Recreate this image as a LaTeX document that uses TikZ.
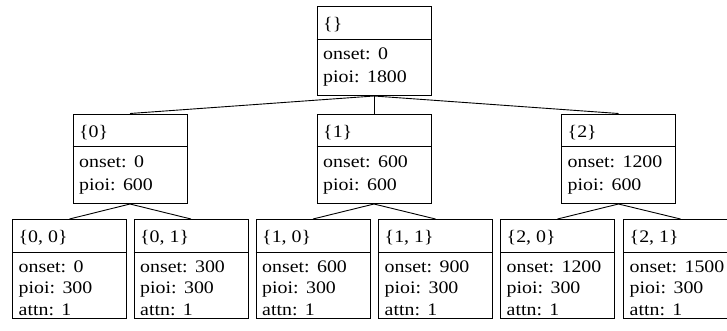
\documentclass[tikz,border=0pt]{standalone}
\usepackage{fontspec}
\setmainfont{Liberation Serif}[FakeStretch=1.13]
\newcommand\gp{\hspace{0.42em}}
\begin{document}
\begin{tikzpicture}[x=1pt,y=-1pt,
  box/.style={draw, line width=1pt, rectangle, inner sep=0pt, anchor=north west, minimum width=114pt},
  divline/.style={line width=1pt},
  conn/.style={line width=0.9pt},
  lbl/.style={anchor=base west, inner sep=0pt, font=\fontsize{17.6pt}{21pt}\selectfont}]
\useasboundingbox (0,0) rectangle (727,330);
\clip (0,0) rectangle (727,330);
% ---- root ----
\node[box, minimum height=89pt] (r) at (316.5,6) {};
\draw[divline] (r.north west) ++(0,33.3) -- ++(114,0);
\node[lbl, xshift=6.5pt, yshift=-23pt] (rh) at (r.north west) {\{\}};
\node[lbl, xshift=6.5pt, yshift=-53pt] (ro) at (r.north west) {onset:\gp 0};
\node[lbl, xshift=6.5pt, yshift=-76pt] (rp) at (r.north west) {pioi:\gp 1800};
% ---- level 1 ----
\newcommand\midbox[4]{%
  \node[box, minimum height=89.5pt] (#1) at (#2,113.5) {};
  \draw[divline] (#1.north west) ++(0,32.8) -- ++(114,0);
  \node[lbl, xshift=6.5pt, yshift=-23.5pt] (#1h) at (#1.north west) {#3};
  \node[lbl, xshift=6.5pt, yshift=-53.8pt] (#1o) at (#1.north west) {onset:\gp #4};
  \node[lbl, xshift=6.5pt, yshift=-76.5pt] (#1p) at (#1.north west) {pioi:\gp 600};
}
\midbox{a}{72.5}{\{0\}}{0}
\midbox{b}{316.5}{\{1\}}{600}
\midbox{c}{561}{\{2\}}{1200}
% ---- leaves ----
\newcommand\leafbox[4]{%
  \node[box, minimum height=98.5pt] (#1) at (#2,219) {};
  \draw[divline] (#1.north west) ++(0,33) -- ++(114,0);
  \node[lbl, xshift=6.5pt, yshift=-23pt] (#1h) at (#1.north west) {#3};
  \node[lbl, xshift=6.5pt, yshift=-53.5pt] (#1o) at (#1.north west) {onset:\gp #4};
  \node[lbl, xshift=6.5pt, yshift=-74.8pt] (#1p) at (#1.north west) {pioi:\gp 300};
  \node[lbl, xshift=6.5pt, yshift=-96pt] (#1t) at (#1.north west) {attn:\gp 1};
}
\leafbox{aa}{12}{\{0, 0\}}{0}
\leafbox{ab}{133.5}{\{0, 1\}}{300}
\leafbox{ba}{255.5}{\{1, 0\}}{600}
\leafbox{bb}{378}{\{1, 1\}}{900}
\leafbox{ca}{500}{\{2, 0\}}{1200}
\leafbox{cb}{623}{\{2, 1\}}{1500}
% ---- connectors ----
\draw[conn] (r.south) -- (a.north);
\draw[conn] (r.south) -- (b.north);
\draw[conn] (r.south) -- (c.north);
\draw[conn] (a.south) -- (aa.north);
\draw[conn] (a.south) -- (ab.north);
\draw[conn] (b.south) -- (ba.north);
\draw[conn] (b.south) -- (bb.north);
\draw[conn] (c.south) -- (ca.north);
\draw[conn] (c.south) -- (cb.north);
\end{tikzpicture}
\end{document}
